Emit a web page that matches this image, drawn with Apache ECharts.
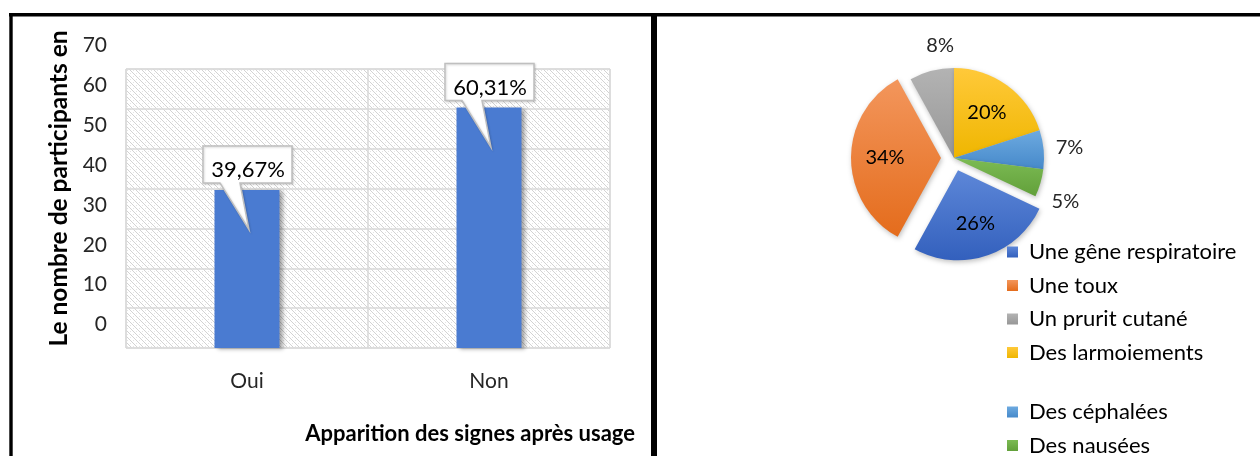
<!DOCTYPE html>
<html>
<head>
<meta charset="utf-8">
<script src="https://cdn.jsdelivr.net/npm/echarts@6.0.0/dist/echarts.min.js"></script>
<style>
  html, body { margin: 0; padding: 0; background: #fff; }
  #chart { width: 1260px; height: 456px; }
</style>
</head>
<body>
<div id="chart"></div>
<script>
// ---- Data ----
const barCategories = ['Oui', 'Non'];
const barValues = [39.67, 60.31];
const yTicks = { min: 0, max: 70, interval: 10 };
const yAxisTitle = 'Le nombre de participants en';
const xAxisTitle = 'Apparition des signes après usage';

const pieNames = ['Une gêne respiratoire', 'Une toux', 'Un prurit cutané', 'Des larmoiements', 'Des céphalées', 'Des nausées'];
const pieValues = [26, 34, 8, 20, 7, 5];
const pieExploded = [true, true, false, false, false, false];
const pieInsideLabel = [true, true, false, true, false, false];

// ---- Styles ----
const FONT = 'Lato, "Noto Sans", sans-serif';
const pieColors = [
  ['#5d87d8', '#3360bd'],
  ['#f3965c', '#e46c1c'],
  ['#b3b3b3', '#979797'],
  ['#ffc93a', '#efb600'],
  ['#6daae0', '#4689ca'],
  ['#7cbb54', '#62a03a']
];
// per-slice label tweaks (styling only)
const pieLabelLen2 = [0, 0, -15, 0, 0, 0];
const pieLabelDy = [0, 0, 0, 0, 0, 11];

function grad(c) {
  return new echarts.graphic.LinearGradient(0, 0, 0, 1, [
    { offset: 0, color: c[0] }, { offset: 1, color: c[1] }
  ]);
}

// hatch pattern for plot background
function makePattern() {
  const c = document.createElement('canvas');
  c.width = 6; c.height = 6;
  const g = c.getContext('2d');
  g.fillStyle = '#ffffff';
  g.fillRect(0, 0, 6, 6);
  g.fillStyle = '#d2d2d2';
  for (let i = 0; i < 6; i++) {
    g.fillRect(i, i, 1, 1);
  }
  g.fillStyle = '#e4e4e4';
  g.fillRect(4, 1, 1, 1);
  g.fillRect(1, 4, 1, 1);
  return c;
}

function fmt(v) { return v.toFixed(2).replace('.', ',') + '%'; }

const chart = echarts.init(document.getElementById('chart'), null, { renderer: 'canvas' });

const legendCommon = {
  orient: 'vertical', left: 1007, padding: 0,
  itemWidth: 11, itemHeight: 11, itemGap: 11.5, icon: 'rect',
  textStyle: { fontFamily: FONT, fontSize: 22, color: '#000', padding: [0, 0, 0, 6] }
};

const option = {
  backgroundColor: '#ffffff',
  animation: false,
  textStyle: { fontFamily: FONT },
  title: {
    text: xAxisTitle,
    right: 625,
    top: 423,
    padding: 0,
    textStyle: { fontFamily: FONT, fontWeight: 'bold', fontSize: 22, color: '#000' }
  },
  grid: {
    left: 126, right: 650, top: 69, bottom: 108,
    show: true,
    backgroundColor: { image: makePattern(), repeat: 'repeat' },
    borderColor: '#d9d9d9',
    borderWidth: 1
  },
  xAxis: {
    type: 'category',
    data: barCategories,
    axisLine: { show: false },
    axisTick: { show: false },
    splitLine: { show: true, lineStyle: { color: '#d9d9d9', width: 1.5 } },
    axisLabel: { fontFamily: FONT, fontSize: 21, color: '#262626', margin: 23 }
  },
  yAxis: {
    type: 'value',
    min: yTicks.min, max: yTicks.max, interval: yTicks.interval,
    name: yAxisTitle,
    nameLocation: 'middle',
    nameGap: 54,
    nameTextStyle: { fontFamily: FONT, fontWeight: 'bold', fontSize: 24.5, color: '#000', padding: [0, 0, 0, 40] },
    axisLine: { show: false },
    axisTick: { show: false },
    splitLine: { show: true, lineStyle: { color: '#d9d9d9', width: 1.5 } },
    axisLabel: {
      fontFamily: FONT, fontSize: 21, color: '#262626', margin: 19,
      verticalAlign: 'bottom', padding: [0, 0, 13, 0]
    }
  },
  legend: [
    Object.assign({ data: pieNames.slice(0, 4), top: 241 }, legendCommon),
    Object.assign({ data: pieNames.slice(4), top: 401, height: 90 }, legendCommon)
  ],
  graphic: [
    { type: 'rect', shape: { x: 9, y: 13, width: 1251, height: 3.5 }, style: { fill: '#000' }, z: 100 },
    { type: 'rect', shape: { x: 9.3, y: 13, width: 3.4, height: 443 }, style: { fill: '#000' }, z: 100 },
    { type: 'rect', shape: { x: 651, y: 13, width: 6, height: 443 }, style: { fill: '#000' }, z: 100 }
  ],
  series: [
    {
      name: 'participants',
      type: 'bar',
      data: barValues,
      barWidth: 65,
      itemStyle: {
        color: '#4a7bd1',
        shadowColor: 'rgba(0,0,0,0.35)', shadowBlur: 4, shadowOffsetX: 3, shadowOffsetY: 1
      },
      z: 2
    },
    {
      name: 'callouts',
      type: 'custom',
      data: barValues.map((v, i) => [i, v]),
      z: 5,
      renderItem: function (params, api) {
        const i = api.value(0), v = api.value(1);
        const top = api.coord([i, v]);
        const tip = api.coord([i, v - 10]);
        const cx = top[0];
        const bx = cx - 44, bw = 89;
        const by = top[1] - 44, bh = 37;
        const bb = by + bh;
        const pts = [[bx, by], [bx + bw, by], [bx + bw, bb], [cx - 7, bb], [tip[0] + 2, tip[1]], [cx - 27, bb], [bx, bb]];
        return {
          type: 'group',
          children: [
            { type: 'polygon', shape: { points: pts }, style: { fill: '#ffffff', stroke: '#bfbfbf', lineWidth: 1.5, shadowColor: 'rgba(0,0,0,0.15)', shadowBlur: 2, shadowOffsetX: 1, shadowOffsetY: 1 } },
            { type: 'text', style: { text: fmt(v), x: cx + 1, y: top[1] - 20, align: 'center', verticalAlign: 'middle', font: '22px ' + FONT, fill: '#000' } }
          ]
        };
      }
    },
    {
      name: 'signes',
      type: 'pie',
      center: [954, 158],
      radius: [0, 90],
      startAngle: -25.2,
      clockwise: true,
      selectedMode: 'multiple',
      selectedOffset: 13,
      avoidLabelOverlap: false,
      emphasis: { disabled: true },
      itemStyle: { shadowColor: 'rgba(0,0,0,0.25)', shadowBlur: 5, shadowOffsetX: 1, shadowOffsetY: 2 },
      label: {
        show: true, position: 'outside', formatter: '{c}%',
        fontFamily: FONT, fontSize: 20, color: '#262626', distanceToLabelLine: 0
      },
      labelLine: { show: false, length: 26, length2: 0 },
      labelLayout: function (p) { return { align: 'center', verticalAlign: 'middle', dy: pieLabelDy[p.dataIndex] }; },
      data: pieNames.map((n, i) => ({
        name: n,
        value: pieValues[i],
        selected: pieExploded[i],
        itemStyle: { color: grad(pieColors[i]) },
        label: { color: pieInsideLabel[i] ? '#000' : '#262626' },
        labelLine: { length: pieInsideLabel[i] ? -34 : 26, length2: pieLabelLen2[i] }
      }))
    }
  ]
};
chart.setOption(option);
</script>
</body>
</html>
